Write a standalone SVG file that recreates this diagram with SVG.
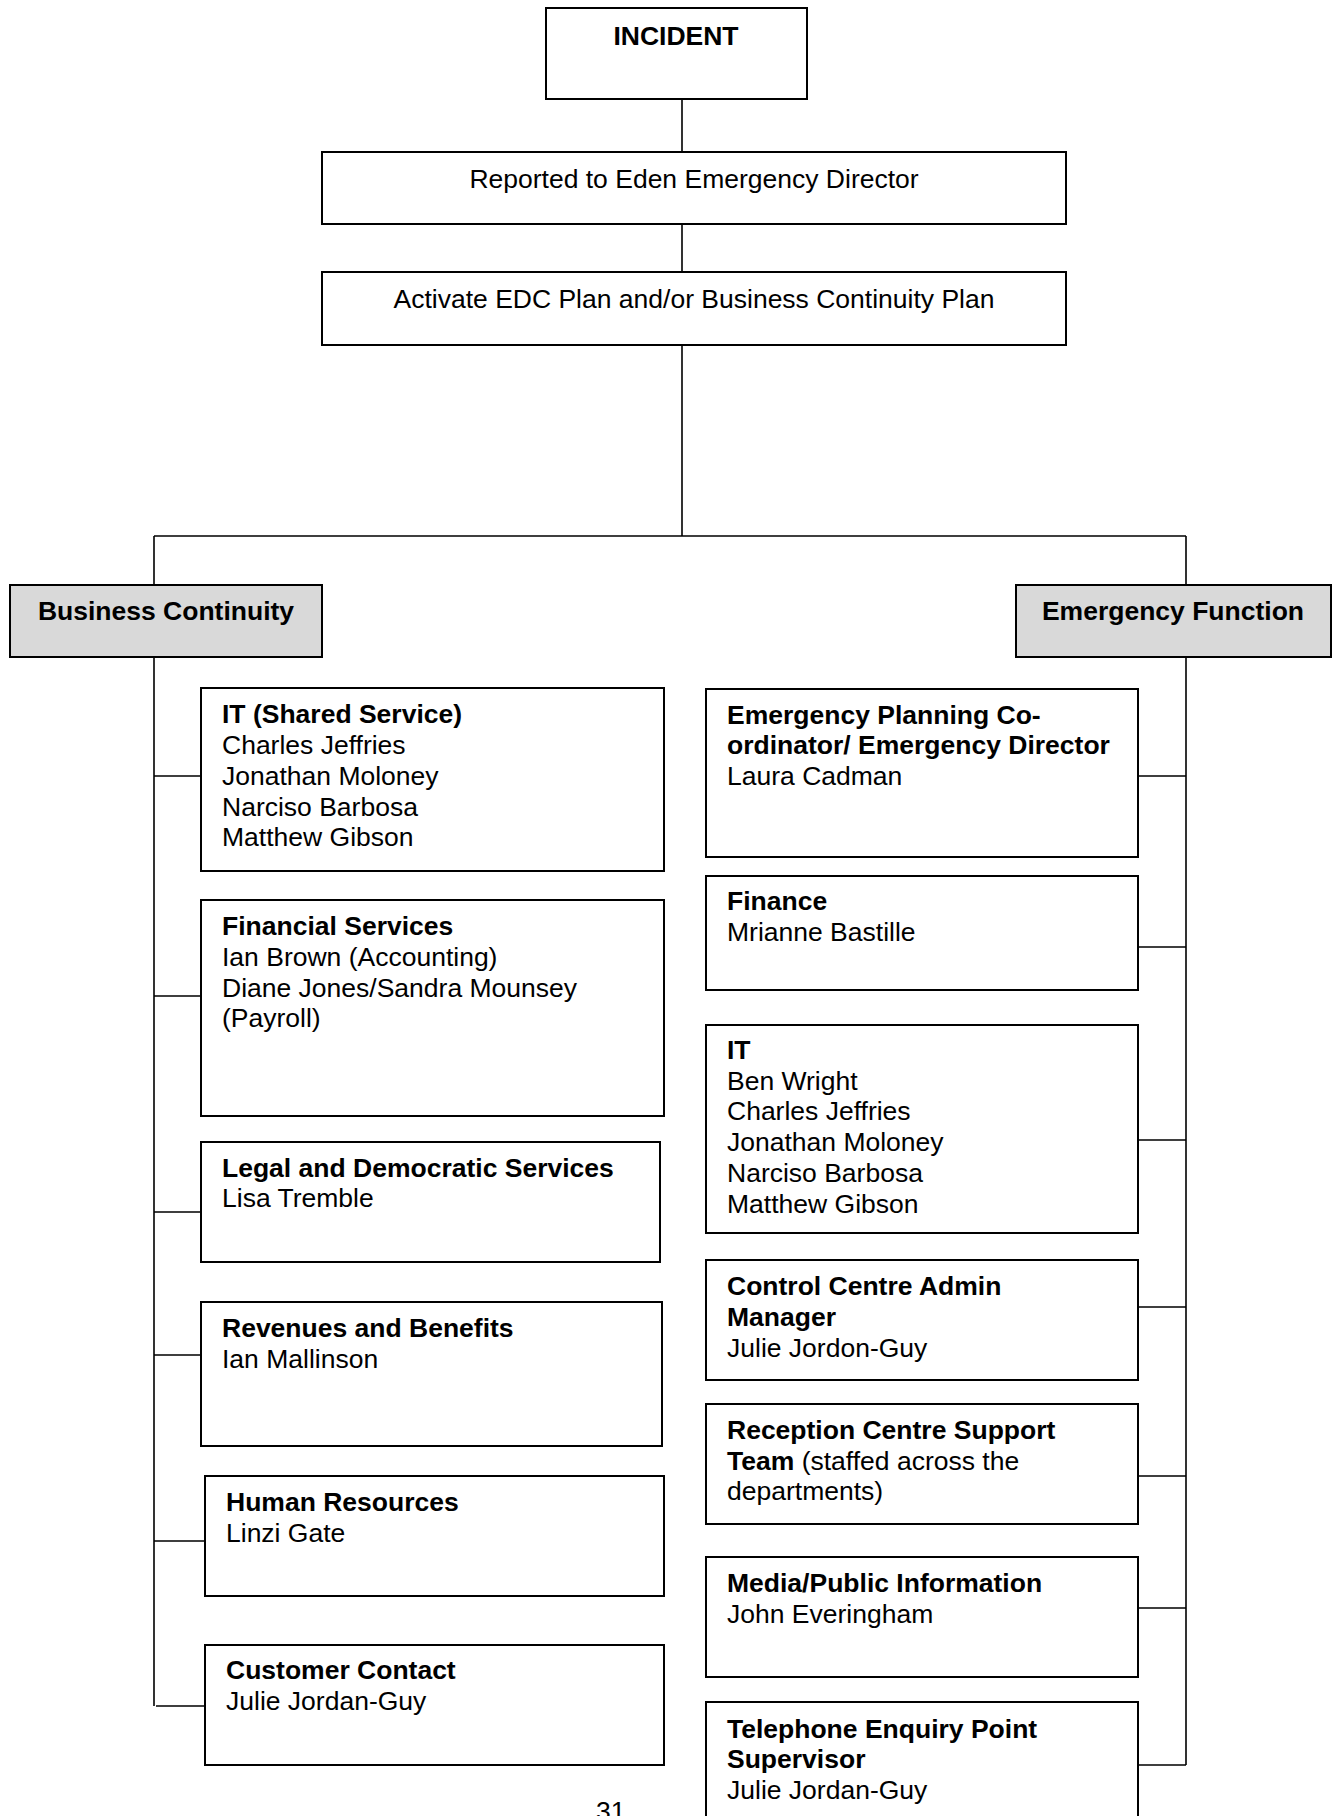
<svg xmlns="http://www.w3.org/2000/svg" width="1338" height="1816" viewBox="0 0 1338 1816">
<style>
.box{fill:#fff;stroke:#000;stroke-width:2}
.hdr{fill:#d9d9d9;stroke:#000;stroke-width:2}
.ln{stroke:#000;stroke-width:1.6;fill:none}
text{font-family:"Liberation Sans",Arial,sans-serif;font-size:26.5px;fill:#000}
.b{font-weight:bold}
.c{text-anchor:middle}
</style>
<rect width="1338" height="1816" fill="#fff"/>
<g id="connectors">
<path class="ln" d="M682 99V152M682 224V272M682 345V536M154 536H1186M154 536V585M1186 536V585"/>
<path class="ln" d="M154 657V1706M154 776H201M154 996H201M154 1212H201M154 1355H201M154 1541H205M156 1706H205"/>
<path class="ln" d="M1186 657V1765M1138 776H1186M1138 947H1186M1138 1140H1186M1138 1307H1186M1138 1476H1186M1138 1608H1186M1138 1765H1186"/>
</g>
<g id="incident"><rect class="box" x="546" y="8" width="261" height="91"/><text class="b c" x="676" y="45">INCIDENT</text></g>
<g id="reported"><rect class="box" x="322" y="152" width="744" height="72"/><text class="c" x="694" y="188">Reported to Eden Emergency Director</text></g>
<g id="activate"><rect class="box" x="322" y="272" width="744" height="73"/><text class="c" x="694" y="308">Activate EDC Plan and/or Business Continuity Plan</text></g>
<g id="business-continuity"><rect class="hdr" x="10" y="585" width="312" height="72"/><text class="b c" x="166" y="620">Business Continuity</text></g>
<g id="emergency-function"><rect class="hdr" x="1016" y="585" width="315" height="72"/><text class="b c" x="1173" y="620">Emergency Function</text></g>

<g id="it-shared"><rect class="box" x="201" y="688" width="463" height="183"/>
<text x="222"><tspan class="b" y="723">IT (Shared Service)</tspan><tspan x="222" y="753.5">Charles Jeffries</tspan><tspan x="222" y="784.5">Jonathan Moloney</tspan><tspan x="222" y="815.5">Narciso Barbosa</tspan><tspan x="222" y="846">Matthew Gibson</tspan></text></g>
<g id="financial"><rect class="box" x="201" y="900" width="463" height="216"/>
<text x="222"><tspan class="b" y="935">Financial Services</tspan><tspan x="222" y="966">Ian Brown (Accounting)</tspan><tspan x="222" y="996.5">Diane Jones/Sandra Mounsey</tspan><tspan x="222" y="1027">(Payroll)</tspan></text></g>
<g id="legal"><rect class="box" x="201" y="1142" width="459" height="120"/>
<text x="222"><tspan class="b" y="1177">Legal and Democratic Services</tspan><tspan x="222" y="1207">Lisa Tremble</tspan></text></g>
<g id="revenues"><rect class="box" x="201" y="1302" width="461" height="144"/>
<text x="222"><tspan class="b" y="1336.5">Revenues and Benefits</tspan><tspan x="222" y="1368">Ian Mallinson</tspan></text></g>
<g id="hr"><rect class="box" x="205" y="1476" width="459" height="120"/>
<text x="226"><tspan class="b" y="1511">Human Resources</tspan><tspan x="226" y="1542">Linzi Gate</tspan></text></g>
<g id="customer"><rect class="box" x="205" y="1645" width="459" height="120"/>
<text x="226"><tspan class="b" y="1679">Customer Contact</tspan><tspan x="226" y="1710">Julie Jordan-Guy</tspan></text></g>

<g id="ep-coordinator"><rect class="box" x="706" y="689" width="432" height="168"/>
<text x="727"><tspan class="b" y="723.5">Emergency Planning Co-</tspan><tspan class="b" x="727" y="754">ordinator/ Emergency Director</tspan><tspan x="727" y="785">Laura Cadman</tspan></text></g>
<g id="finance"><rect class="box" x="706" y="876" width="432" height="114"/>
<text x="727"><tspan class="b" y="910">Finance</tspan><tspan x="727" y="941">Mrianne Bastille</tspan></text></g>
<g id="it"><rect class="box" x="706" y="1025" width="432" height="208"/>
<text x="727"><tspan class="b" y="1059">IT</tspan><tspan x="727" y="1089.5">Ben Wright</tspan><tspan x="727" y="1120">Charles Jeffries</tspan><tspan x="727" y="1151">Jonathan Moloney</tspan><tspan x="727" y="1182">Narciso Barbosa</tspan><tspan x="727" y="1212.5">Matthew Gibson</tspan></text></g>
<g id="control-centre"><rect class="box" x="706" y="1260" width="432" height="120"/>
<text x="727"><tspan class="b" y="1294.5">Control Centre Admin</tspan><tspan class="b" x="727" y="1325.5">Manager</tspan><tspan x="727" y="1356.5">Julie Jordon-Guy</tspan></text></g>
<g id="reception"><rect class="box" x="706" y="1404" width="432" height="120"/>
<text x="727"><tspan class="b" y="1439">Reception Centre Support</tspan><tspan class="b" x="727" y="1469.5">Team</tspan><tspan> (staffed across the</tspan><tspan x="727" y="1500">departments)</tspan></text></g>
<g id="media"><rect class="box" x="706" y="1557" width="432" height="120"/>
<text x="727"><tspan class="b" y="1592">Media/Public Information</tspan><tspan x="727" y="1622.5">John Everingham</tspan></text></g>
<g id="telephone"><rect class="box" x="706" y="1702" width="432" height="140"/>
<text x="727"><tspan class="b" y="1737.5">Telephone Enquiry Point</tspan><tspan class="b" x="727" y="1768">Supervisor</tspan><tspan x="727" y="1799">Julie Jordan-Guy</tspan></text></g>
<text x="596" y="1820">31</text>
</svg>
